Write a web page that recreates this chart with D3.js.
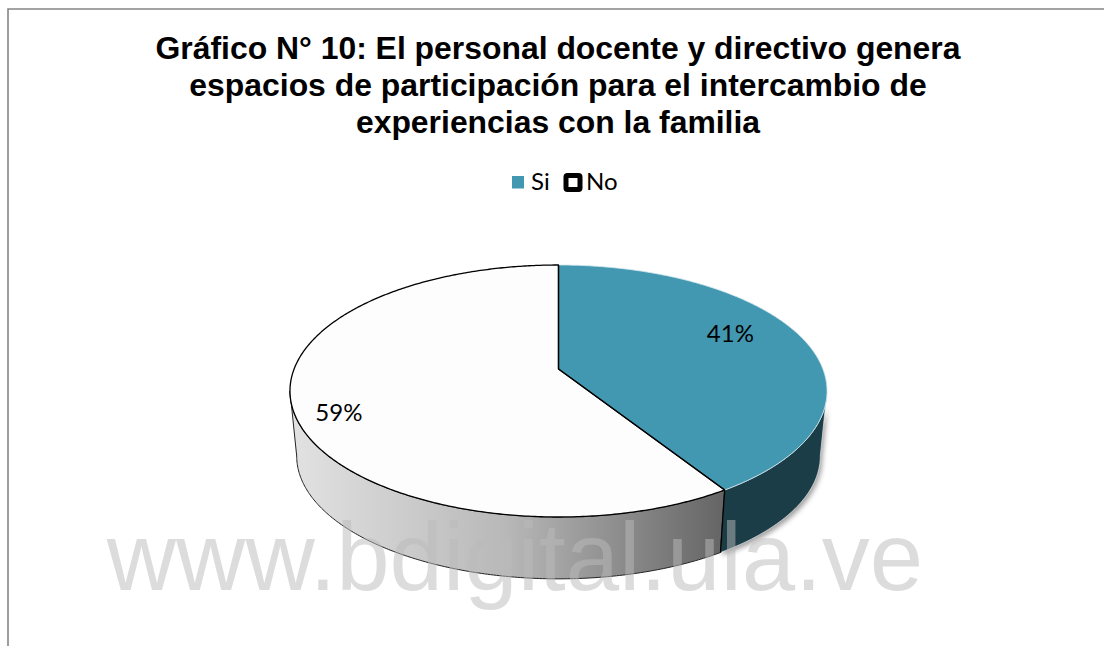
<!DOCTYPE html>
<html>
<head>
<meta charset="utf-8">
<script src="https://cdnjs.cloudflare.com/ajax/libs/d3/7.8.5/d3.min.js"></script>
<style>
  body { margin: 0; background: #fff; }
  svg { display: block; }
</style>
</head>
<body>
<svg id="my-svg"></svg>
<script>
// Chart data
var categories = ['Si', 'No'];
var values = [41, 59];
var valueLabels = ['41%', '59%'];
var titleLines = [
  'Gráfico N° 10: El personal docente y directivo genera',
  'espacios de participación para el intercambio de',
  'experiencias con la familia'
];
var watermark = 'www.bdigital.ula.ve';

var width = 1104, height = 646;
var svg = d3.select('#my-svg').attr('width', width).attr('height', height);

// Colors
var topColors = ['#4298b1', '#fdfdfd'];
var edgeColors = ['#d5e6ec', '#000'];

var defs = svg.append('defs');
var grad = defs.append('linearGradient').attr('id', 'wall-no')
  .attr('gradientUnits', 'userSpaceOnUse')
  .attr('x1', 292).attr('x2', 720).attr('y1', 0).attr('y2', 0);
grad.append('stop').attr('offset', 0).attr('stop-color', '#e2e2e2');
grad.append('stop').attr('offset', 0.5).attr('stop-color', '#b8b8b8');
grad.append('stop').attr('offset', 1).attr('stop-color', '#666');
var blur = defs.append('filter').attr('id', 'shadow')
  .attr('x', '-10%').attr('y', '-10%').attr('width', '120%').attr('height', '120%');
blur.append('feGaussianBlur').attr('stdDeviation', 2.5);

// Frame
svg.append('path')
  .attr('d', d3.line()([[8, 646], [8, 9], [1104, 9]]))
  .attr('fill', 'none').attr('stroke', '#858585').attr('stroke-width', 1.6);

// Title
svg.append('g').selectAll('text').data(titleLines).enter().append('text')
  .attr('x', 558)
  .attr('y', function(d, i) { return 59 + i * 37; })
  .attr('text-anchor', 'middle')
  .style('font', 'bold 31.9px "Liberation Sans"')
  .attr('fill', '#000')
  .text(function(d) { return d; });

// Legend
var legendX = [512, 566];
var legend = svg.append('g').selectAll('g').data(categories).enter().append('g');
legend.append('rect')
  .attr('x', function(d, i) { return legendX[i]; })
  .attr('y', function(d, i) { return i ? 175.5 : 176; })
  .attr('width', function(d, i) { return i ? 14 : 12; })
  .attr('height', function(d, i) { return i ? 14 : 12.5; })
  .attr('rx', function(d, i) { return i ? 1.5 : 0; })
  .attr('fill', function(d, i) { return i ? '#fff' : topColors[0]; })
  .attr('stroke', function(d, i) { return i ? '#000' : 'none'; })
  .attr('stroke-width', 5);
legend.append('text')
  .attr('x', function(d, i) { return i ? 586 : 531; })
  .attr('y', 190)
  .style('font', '24px Lato')
  .attr('fill', '#000')
  .text(function(d) { return d; });

// Perspective projection of the pie circle: u right, v towards the viewer
var cx = 558.5, radius = 264.4;
var persp = -0.1746, yScale = 57.73, yApex = 369;
var rimCy = 391, wallScale = 0.975, wallDrop = 65;

function project(angle, r) {
  var u = r * Math.sin(angle), v = -r * Math.cos(angle);
  var w = 1 + persp * v;
  return [cx + radius * u / w, (yScale * v + yApex) / w];
}
function lower(p) {
  return [cx + (p[0] - cx) * wallScale, rimCy + (p[1] - rimCy) * wallScale + wallDrop];
}
function rim(a0, a1) {
  var n = Math.ceil(Math.abs(a1 - a0) / 0.01);
  return d3.range(n + 1).map(function(i) {
    return project(a0 + (a1 - a0) * i / n, 1);
  });
}

var slices = d3.pie().sort(null).startAngle(0).endAngle(2 * Math.PI)(values);
var line = d3.line();

// Walls run between the two silhouette points of the rim
var rightEdge = Math.PI / 2 + 0.1755, leftEdge = 3 * Math.PI / 2 - 0.1755;
var wallSpans = [
  [rightEdge, slices[0].endAngle],
  [slices[1].startAngle, leftEdge]
];
function wallPath(span) {
  var up = rim(span[0], span[1]);
  var down = up.map(lower).reverse();
  return line(up.concat(down)) + 'Z';
}

// Soft shadow under the right side
svg.append('path')
  .attr('d', wallPath(wallSpans[0]))
  .attr('transform', 'translate(2,3)')
  .attr('fill', '#777').attr('opacity', 0.7)
  .attr('filter', 'url(#shadow)');

svg.append('path')
  .attr('d', wallPath(wallSpans[0]))
  .attr('fill', '#1a3d48')
  .attr('stroke', '#e8e8e8').attr('stroke-width', 0.7);
svg.append('path')
  .attr('d', wallPath(wallSpans[1]))
  .attr('fill', 'url(#wall-no)')
  .attr('stroke', '#222').attr('stroke-width', 1);
svg.append('path')
  .attr('d', function() {
    var p = project(slices[0].endAngle, 1);
    return line([p, lower(p)]);
  })
  .attr('stroke', '#000').attr('stroke-width', 1.4);

// Top faces
var apex = project(0, 0);
svg.append('g').selectAll('path').data(slices).enter().append('path')
  .attr('d', function(d) {
    return line([apex].concat(rim(d.startAngle, d.endAngle))) + 'Z';
  })
  .attr('fill', function(d, i) { return topColors[i]; })
  .attr('stroke', function(d, i) { return edgeColors[i]; })
  .attr('stroke-width', function(d, i) { return i ? 1.3 : 0.8; })
  .attr('stroke-linejoin', 'round');
// redraw the split lines on top of the teal edge
svg.append('path')
  .attr('d', line([project(slices[0].startAngle, 1), apex, project(slices[0].endAngle, 1)]))
  .attr('fill', 'none').attr('stroke', '#000').attr('stroke-width', 1.3);

// Value labels
var labelRadius = [0.7, 0.83], labelNudge = [-12, 14];
svg.append('g').selectAll('text').data(slices).enter().append('text')
  .attr('transform', function(d, i) {
    var p = project((d.startAngle + d.endAngle) / 2, labelRadius[i]);
    return 'translate(' + p[0] + ',' + (p[1] + labelNudge[i]) + ')';
  })
  .attr('text-anchor', 'middle')
  .attr('dy', '0.35em')
  .style('font', '24px Lato')
  .attr('fill', '#000')
  .text(function(d, i) { return valueLabels[i]; });

// Watermark
svg.append('text')
  .attr('x', 515)
  .attr('y', 590)
  .attr('text-anchor', 'middle')
  .style('font', '96px "Liberation Sans"')
  .attr('fill', '#bbb')
  .attr('opacity', 0.5)
  .text(watermark);
</script>
</body>
</html>
